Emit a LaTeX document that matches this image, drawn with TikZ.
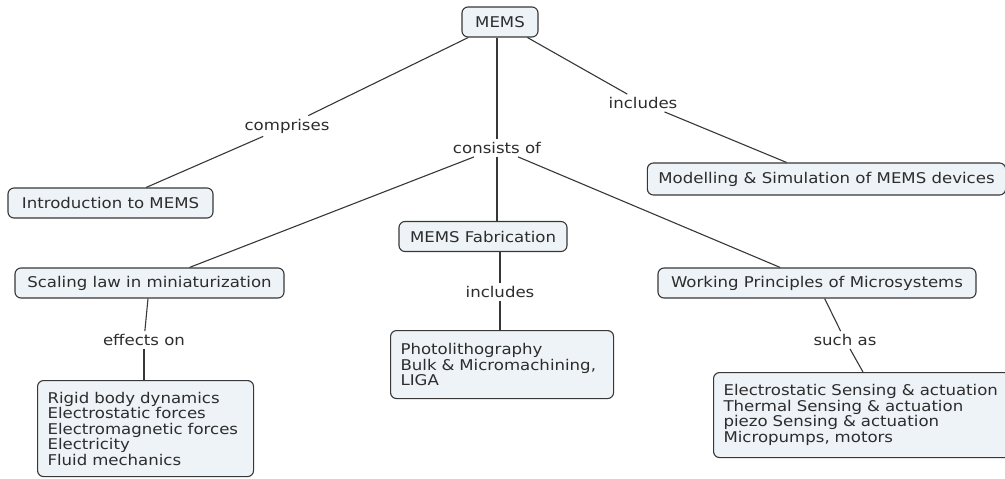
\documentclass[tikz,border=0pt]{standalone}
\usepackage{fontspec}
\setmainfont[FakeStretch=1.12]{DejaVu Sans}
\definecolor{boxfill}{RGB}{237,243,246}
\definecolor{edgegray}{RGB}{55,55,55}
\definecolor{textgray}{RGB}{45,45,45}
\begin{document}
\begin{tikzpicture}[x=1pt,y=-1pt,
  concept/.style={draw=edgegray, fill=boxfill, rounded corners=6pt, line width=1.1pt,
    text=textgray, inner xsep=11pt, inner ysep=4pt, minimum height=30pt,
    font=\fontsize{14.8}{15.5}\selectfont},
  multi/.style={concept, align=left, inner xsep=10pt, anchor=north west},
  linklabel/.style={fill=white, text=textgray, inner sep=3pt,
    font=\fontsize{14.8}{15.5}\selectfont},
  link/.style={draw=edgegray, line width=1.1pt}]
\useasboundingbox (0,0) rectangle (1005,479);

% concepts
\node[concept, minimum width=76pt] (mems) at (500,22) {MEMS};
\node[concept, minimum width=205pt] (intro) at (110.5,203) {Introduction to MEMS};
\node[concept, minimum width=269pt] (scal) at (149.5,283) {Scaling law in miniaturization};
\node[concept, minimum width=144pt] (fab) at (483,236.5) {MEMS Fabrication};
\node[concept, minimum width=318pt] (work) at (817,283) {Working Principles of Microsystems};
\node[concept, minimum width=353pt, minimum height=32pt] (model) at (826.5,179)
  {Modelling \& Simulation of MEMS devices};
\node[multi, text width=203pt, minimum height=68pt] (photo) at (390,330)
  {Photolithography\\Bulk \& Micromachining,\\LIGA};
\node[multi, text width=196pt, minimum height=96pt] (rigid) at (37,380)
  {Rigid body dynamics\\Electrostatic forces\\Electromagnetic forces\\Electricity\\Fluid mechanics};
\node[multi, text width=312pt, minimum height=85pt] (elec) at (713,372)
  {Electrostatic Sensing \& actuation\\Thermal Sensing \& actuation\\piezo Sensing \& actuation\\Micropumps, motors};
\coordinate (elecin) at (863,372);

% linking phrases
\node[linklabel] (lcomp) at (287,126) {comprises};
\node[linklabel] (lcons) at (497,148) {consists of};
\node[linklabel] (lincl1) at (643,103) {includes};
\node[linklabel] (lincl2) at (500,292) {includes};
\node[linklabel] (leff) at (144,340) {effects on};
\node[linklabel] (lsuch) at (845,340) {such as};

% connectors
\draw[link] (mems) -- (lcomp);
\draw[link] (lcomp) -- (intro);
\draw[link] (mems.south -| lcons) -- (lcons);
\draw[link] (lcons) -- (scal);
\draw[link] (lcons) -- (lcons |- fab.north);
\draw[link] (lcons) -- (work);
\draw[link] (mems) -- (lincl1);
\draw[link] (lincl1) -- (model);
\draw[link] (fab.south -| lincl2) -- (lincl2);
\draw[link] (lincl2) -- (lincl2 |- photo.north);
\draw[link] (scal) -- (leff);
\draw[link] (leff) -- (leff |- rigid.north);
\draw[link] (work) -- (lsuch);
\draw[link] (lsuch) -- (elecin);
\end{tikzpicture}
\end{document}
